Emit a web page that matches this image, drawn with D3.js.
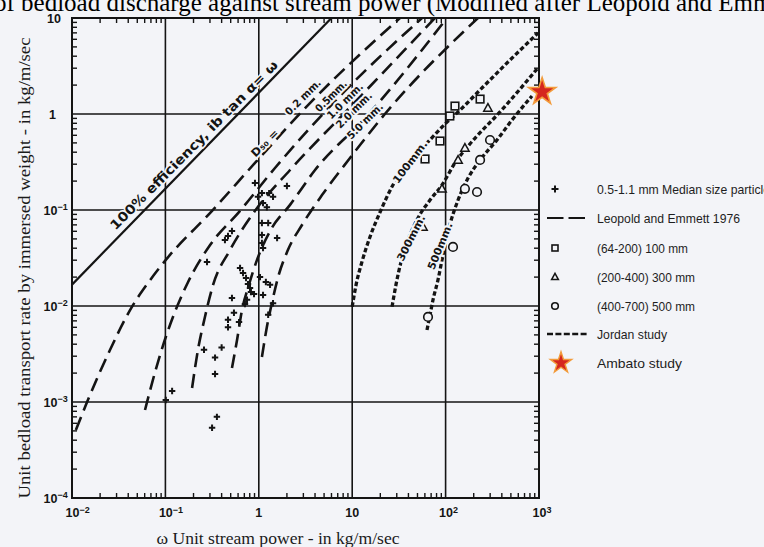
<!DOCTYPE html>
<html><head><meta charset="utf-8">
<script src="https://cdn.jsdelivr.net/npm/d3@7"></script>
<style>html,body{margin:0;padding:0;background:#f3f4f8;overflow:hidden}</style>
</head><body>
<script>
// ---------------- data ----------------
const xTicks = [0.01, 0.1, 1, 10, 100, 1000];
const xTickBase = ["10", "10", "1", "10", "10", "10"];
const xTickSup = ["−2", "−1", "", "", "2", "3"];
const yTicks = [1e-4, 1e-3, 1e-2, 1e-1, 1, 10];
const yTickBase = ["10", "10", "10", "10", "1", "10"];
const yTickSup = ["−4", "−3", "−2", "−1", "", ""];

const efficiencyLine = [[0.01, 0.0167], [6.0, 10]];

const leopold02 = [[0.011,0.00051],[0.0145,0.001],[0.0255,0.00348],[0.0438,0.0098],[0.0652,0.0174],[0.101,0.0302],[0.316,0.098],[0.91,0.309],[3.53,1.30],[32.5,10]];
const leopold05 = [[0.0605,0.000826],[0.0775,0.00205],[0.101,0.00475],[0.133,0.0098],[0.175,0.0178],[0.301,0.0432],[0.63,0.098],[1.49,0.274],[7.40,1.54],[55.9,10]];
const leopold10 = [[0.193,0.0014],[0.223,0.00348],[0.265,0.00768],[0.324,0.0166],[0.492,0.0383],[0.91,0.098],[2.16,0.261],[10,1.24],[77,10]];
const leopold20 = [[0.516,0.00226],[0.585,0.00443],[0.661,0.0091],[0.766,0.0154],[0.957,0.0302],[1.38,0.065],[2.16,0.113],[4.0,0.261],[14.1,0.931],[103.5,10]];
const leopold50 = [[1.08,0.00294],[1.22,0.00604],[1.38,0.0107],[1.61,0.020],[2.05,0.0383],[2.90,0.0698],[4.75,0.143],[9.47,0.348],[22.4,1.0],[222,10]];
const leopoldLabels = ["0.2 mm.", "0.5mm.", "1.0 mm.", "2.0 mm.", "5.0 mm."];
const leopoldLabelAt = [[2.97,1.50],[5.93,1.54],[8.37,1.37],[10.45,1.10],[13.7,0.845]];
const d50LabelAt = [1.16, 0.499];

const jordan100 = [[10,0.0098],[11.0,0.0166],[12.7,0.0287],[15.5,0.0524],[19.9,0.0953],[27.3,0.182],[41.6,0.316],[64.8,0.511],[98.6,0.787],[143,1.10],[251,1.91],[490,3.65],[975,6.98]];
const jordan300 = [[26.7,0.0098],[29.4,0.0166],[33.3,0.0287],[39.6,0.0487],[50.6,0.0826],[68.1,0.127],[91.5,0.182],[126,0.309],[182,0.487],[382,1.05],[952,2.94]];
const jordan500 = [[63.2,0.00562],[68.1,0.00806],[73.3,0.0116],[82.9,0.0187],[93.8,0.034],[111,0.0698],[136,0.127],[174,0.215],[234,0.332],[355,0.536],[514,0.866],[841,1.54]];
const jordanLabels = ["100mm.", "300mm.", "500mm."];
const jordanLabelAt = [[41.6,0.316],[42.6,0.0511],[87.1,0.0422]];

const crosses = [[0.101,0.00105],[0.118,0.0013],[0.259,0.0035],[0.34,0.0029],[0.40,0.0037],[0.34,0.00196],[0.356,0.0007],[0.316,0.00054],
  [0.516,0.0121],[0.542,0.0085],[0.468,0.0072],[0.468,0.0060],[0.614,0.0068],[0.279,0.0287],[0.434,0.0487],[0.468,0.0536],[0.516,0.0604],
  [0.63,0.0249],[0.678,0.0221],[0.73,0.0196],[0.766,0.0169],[0.805,0.0154],[0.824,0.014],[0.889,0.0133],[0.748,0.0116],[0.711,0.0105],
  [1.03,0.020],[1.19,0.0178],[1.32,0.0166],[1.11,0.013],[1.42,0.0107],[1.26,0.0081],[0.91,0.191],[1.08,0.150],[1.29,0.150],[1.42,0.137],
  [0.98,0.137],[1.11,0.118],[1.22,0.107],[1.08,0.0733],[1.26,0.0733],[1.57,0.0511],[1.08,0.0549],[1.08,0.0453],[1.11,0.0402],[2.0,0.178]];
const squares = [[60.2,0.34],[87.1,0.523],[111,0.953],[126,1.21],[234,1.43]];
const triangles = [[57.3,0.0665],[91.5,0.166],[136,0.332],[161,0.443],[284,1.155]];
const circles = [[64.8,0.0077],[120,0.0412],[161,0.166],[217,0.154],[234,0.332],[299,0.536]];
const ambato = [[1080, 1.7]];

const legendLabels = ["0.5-1.1 mm Median size particle", "Leopold and Emmett 1976", "(64-200) 100 mm", "(200-400) 300 mm", "(400-700) 500 mm", "Jordan study", "Ambato study"];
const legendKinds = ["cross", "leopold", "square", "triangle", "circle", "jordan", "star"];

// ---------------- drawing ----------------
const W = 764, H = 547, L = 72, R = 539, T = 18, B = 498;
const bg = "#f3f4f8", ink = "#141414";
const x = d3.scaleLog().domain([0.01, 1000]).range([L, R]);
const y = d3.scaleLog().domain([1e-4, 10]).range([B, T]);

const svg = d3.select("body").append("svg").attr("width", W).attr("height", H).style("display", "block");
svg.append("rect").attr("width", W).attr("height", H).attr("fill", bg);
svg.append("defs").append("clipPath").attr("id", "plot")
  .append("rect").attr("x", L).attr("y", T).attr("width", R - L).attr("height", B - T);

// title (cut at top as in the source)
svg.append("text").attr("x", -6).attr("y", 11)
  .attr("font-family", "Liberation Serif, Times New Roman, serif").attr("font-size", 25).attr("fill", "#000")
  .text("of bedload discharge against stream power (Modified after Leopold and Emmett 1976)");

// grid
const grid = svg.append("g").attr("stroke", ink).attr("stroke-width", 1.6);
grid.selectAll(".gx").data(xTicks.slice(1, -1)).join("line").attr("class", "gx")
  .attr("x1", d => x(d)).attr("x2", d => x(d)).attr("y1", T).attr("y2", B);
grid.selectAll(".gy").data(yTicks.slice(1, -1)).join("line").attr("class", "gy")
  .attr("y1", d => y(d)).attr("y2", d => y(d)).attr("x1", L).attr("x2", R);

const plot = svg.append("g").attr("clip-path", "url(#plot)");
const line = d3.line().x(d => x(d[0])).y(d => y(d[1])).curve(d3.curveMonotoneX);

plot.append("path").datum(efficiencyLine).attr("d", line).attr("fill", "none").attr("stroke", ink).attr("stroke-width", 2.2);

[leopold02, leopold05, leopold10, leopold20, leopold50].forEach(c => {
  plot.append("path").datum(c).attr("d", line).attr("fill", "none").attr("stroke", ink)
    .attr("stroke-width", 2.6).attr("stroke-dasharray", "14,7");
});
[jordan100, jordan300, jordan500].forEach(c => {
  plot.append("path").datum(c).attr("d", line).attr("fill", "none").attr("stroke", ink)
    .attr("stroke-width", 3.3).attr("stroke-dasharray", "4.5,2.5");
});

// markers
const mk = svg.append("g").attr("fill", "none").attr("stroke", ink);
mk.selectAll(".cr").data(crosses).join("path").attr("class", "cr")
  .attr("transform", d => `translate(${x(d[0])},${y(d[1])})`)
  .attr("d", "M-3.2,0H3.2M0,-3.2V3.2").attr("stroke-width", 2);
mk.selectAll(".sq").data(squares).join("rect").attr("class", "sq")
  .attr("x", d => x(d[0]) - 3.8).attr("y", d => y(d[1]) - 3.8).attr("width", 7.6).attr("height", 7.6)
  .attr("fill", bg).attr("stroke-width", 1.6);
mk.selectAll(".tr").data(triangles).join("path").attr("class", "tr")
  .attr("transform", d => `translate(${x(d[0])},${y(d[1])})`)
  .attr("d", "M0,-4.4L4.2,3.2L-4.2,3.2Z").attr("fill", bg).attr("stroke-width", 1.5);
mk.selectAll(".ci").data(circles).join("circle").attr("class", "ci")
  .attr("cx", d => x(d[0])).attr("cy", d => y(d[1])).attr("r", 4.3)
  .attr("fill", bg).attr("stroke-width", 1.6);

// curve labels (halo hides lines underneath, like the gaps in the original)
function label(txt, p, angle, size, len, dx, dy) {
  svg.append("text")
    .attr("transform", `translate(${x(p[0]) + (dx||0)},${y(p[1]) + (dy||0)}) rotate(${angle})`)
    .attr("text-anchor", "middle").attr("dy", "0.35em")
    .attr("font-family", "DejaVu Sans, sans-serif").attr("font-weight", "bold").attr("font-size", size)
    .attr("textLength", len).attr("lengthAdjust", "spacingAndGlyphs")
    .attr("fill", ink).attr("stroke", bg).attr("stroke-width", 4).attr("paint-order", "stroke")
    .text(txt);
}
leopoldLabels.forEach((t, i) => label(t, leopoldLabelAt[i], -45, 10.5, t.length > 6 ? 46 : 40));
label("D\u2085\u2080 =", d50LabelAt, -45, 11, 34);
jordanLabels.forEach((t, i) => label(t, jordanLabelAt[i], [-53, -63, -68][i], 10.5, 50));

// efficiency label
{
  const xs = 0.0315, ys = xs * (efficiencyLine[1][1] / efficiencyLine[1][0]);
  svg.append("text")
    .attr("transform", `translate(${x(xs) - 3},${y(ys) - 6}) rotate(-45.3)`)
    .attr("font-family", "DejaVu Sans, sans-serif").attr("font-weight", "bold").attr("font-size", 13)
    .attr("textLength", 232).attr("lengthAdjust", "spacingAndGlyphs")
    .attr("fill", ink).attr("stroke", bg).attr("stroke-width", 3).attr("paint-order", "stroke")
    .text("100% efficiency, ib tan α= ω");
}

// frame and minor ticks
svg.append("rect").attr("x", L).attr("y", T).attr("width", R - L).attr("height", B - T)
  .attr("fill", "none").attr("stroke", ink).attr("stroke-width", 2);
const isMajor = v => Math.abs(Math.log10(v) - Math.round(Math.log10(v))) < 1e-6;
const xm = x.ticks().filter(v => !isMajor(v));
const ym = y.ticks().filter(v => !isMajor(v));
const tk = svg.append("g").attr("stroke", ink).attr("stroke-width", 1.4);
tk.selectAll(".tb").data(xm).join("line").attr("class", "tb").attr("x1", d => x(d)).attr("x2", d => x(d)).attr("y1", B).attr("y2", B - 5);
tk.selectAll(".tt").data(xm).join("line").attr("class", "tt").attr("x1", d => x(d)).attr("x2", d => x(d)).attr("y1", T).attr("y2", T + 5);
tk.selectAll(".tl").data(ym).join("line").attr("class", "tl").attr("y1", d => y(d)).attr("y2", d => y(d)).attr("x1", L).attr("x2", L + 5);
tk.selectAll(".tr2").data(ym).join("line").attr("class", "tr2").attr("y1", d => y(d)).attr("y2", d => y(d)).attr("x1", R).attr("x2", R - 5);

// tick labels
const tf = "Liberation Sans, Arial, sans-serif";
yTicks.forEach((v, i) => {
  const t = svg.append("text").attr("x", 57).attr("y", y(v)).attr("dy", "0.36em")
    .attr("text-anchor", yTickSup[i] ? "start" : "end")
    .attr("font-family", tf).attr("font-weight", "bold").attr("font-size", 12.5).attr("fill", ink);
  if (yTickSup[i]) {
    t.attr("x", 43.5).text(yTickBase[i]);
    t.append("tspan").attr("dy", "-0.45em").attr("font-size", 9).text(yTickSup[i]);
  } else {
    t.attr("x", yTickBase[i] === "1" ? 56 : 61).text(yTickBase[i]);
  }
});
xTicks.forEach((v, i) => {
  const t = svg.append("text").attr("y", 517)
    .attr("font-family", tf).attr("font-weight", "bold").attr("font-size", 12.5).attr("fill", ink);
  if (xTickSup[i]) {
    t.attr("x", x(v) - 6.5).text(xTickBase[i]);
    t.append("tspan").attr("dy", "-0.45em").attr("font-size", 9).text(xTickSup[i]);
  } else {
    t.attr("x", x(v)).attr("text-anchor", "middle").text(xTickBase[i]);
  }
});

// axis titles
svg.append("text").attr("transform", "translate(30,268) rotate(-90)").attr("text-anchor", "middle")
  .attr("font-family", "Liberation Serif, Times New Roman, serif").attr("font-size", 16.5).attr("fill", "#1a1a1a")
  .attr("textLength", 461).attr("lengthAdjust", "spacingAndGlyphs")
  .text("Unit bedload transport rate by immersed weight - in kg/m/sec");
svg.append("text").attr("x", 278).attr("y", 544).attr("text-anchor", "middle")
  .attr("font-family", "Liberation Serif, Times New Roman, serif").attr("font-size", 16).attr("fill", "#1a1a1a")
  .attr("textLength", 243).attr("lengthAdjust", "spacingAndGlyphs")
  .text("ω Unit stream power - in kg/m/sec");

// star (Ambato)
const starPath = s => d3.symbol(d3.symbolStar).size(s)();
svg.selectAll(".amb").data(ambato).join("path").attr("class", "amb")
  .attr("transform", d => `translate(${x(d[0])},${y(d[1])})`)
  .attr("d", starPath(230)).attr("fill", "#d5261f").attr("stroke", "#f29b3b").attr("stroke-width", 1.6);

// legend
const legY = [189, 218, 248, 277, 306, 334, 363];
const legW = [173, 143, 91, 98, 98, 70, 85];
const lg = svg.append("g");
legendLabels.forEach((t, i) => {
  const cy = legY[i], k = legendKinds[i];
  if (k === "cross") lg.append("path").attr("transform", `translate(555,${cy})`).attr("d", "M-3.5,0H3.5M0,-3.5V3.5").attr("stroke", ink).attr("stroke-width", 2);
  if (k === "leopold") lg.append("line").attr("x1", 547).attr("x2", 585).attr("y1", cy).attr("y2", cy).attr("stroke", ink).attr("stroke-width", 2).attr("stroke-dasharray", "16.5,5");
  if (k === "square") lg.append("rect").attr("x", 552).attr("y", cy - 3).attr("width", 6).attr("height", 6).attr("fill", "none").attr("stroke", ink).attr("stroke-width", 1.6);
  if (k === "triangle") lg.append("path").attr("transform", `translate(555,${cy})`).attr("d", "M0,-3.6L3.4,2.6L-3.4,2.6Z").attr("fill", "none").attr("stroke", ink).attr("stroke-width", 1.5);
  if (k === "circle") lg.append("circle").attr("cx", 555).attr("cy", cy).attr("r", 3.3).attr("fill", "none").attr("stroke", ink).attr("stroke-width", 1.6);
  if (k === "jordan") lg.append("line").attr("x1", 547).attr("x2", 589).attr("y1", cy).attr("y2", cy).attr("stroke", ink).attr("stroke-width", 2.6).attr("stroke-dasharray", "6,2.4");
  if (k === "star") lg.append("path").attr("transform", `translate(561,${cy})`).attr("d", starPath(140)).attr("fill", "#d5261f").attr("stroke", "#f29b3b").attr("stroke-width", 1.4);
  lg.append("text").attr("x", 597).attr("y", cy).attr("dy", "0.36em")
    .attr("font-family", "Liberation Sans Narrow, Liberation Sans, Arial, sans-serif").attr("font-size", 13.5).attr("fill", "#1e1e1e")
    .attr("textLength", legW[i]).attr("lengthAdjust", "spacingAndGlyphs").text(t);
});
</script>
</body></html>
